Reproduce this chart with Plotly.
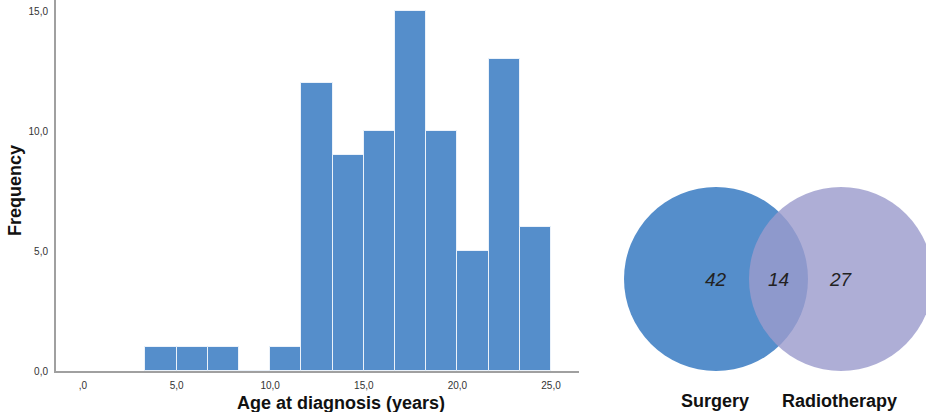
import plotly.graph_objects as go

# Histogram of age at diagnosis (bins of 5/3 years)
bin_start = 10 / 3
bin_width = 5 / 3
counts = [1, 1, 1, 0, 1, 12, 9, 10, 15, 10, 5, 13, 6]

x_tick_vals = [0, 5, 10, 15, 20, 25]
x_tick_text = [",0", "5,0", "10,0", "15,0", "20,0", "25,0"]
y_tick_vals = [0, 5, 10, 15]
y_tick_text = ["0,0", "5,0", "10,0", "15,0"]

# Treatment overlap
venn_sets = ["Surgery", "Radiotherapy"]
venn_counts = [42, 14, 27]  # surgery only, both, radiotherapy only

W, H = 926, 412
BLUE = "#558ECB"
LAVENDER = "rgba(155,155,204,0.81)"
FONT = "Liberation Sans, Arial, sans-serif"

centers = [bin_start + bin_width * (i + 0.5) for i in range(len(counts))]

fig = go.Figure()
fig.add_trace(go.Bar(
    x=centers, y=counts, width=bin_width,
    marker=dict(color=BLUE, line=dict(color="rgba(235,242,250,1)", width=1)),
    hoverinfo="y",
))


# pixel -> paper helpers
def px_x(p):
    return p / W


def px_y(p):
    return 1 - p / H


fig.update_layout(
    width=W, height=H, autosize=False,
    margin=dict(l=0, r=0, t=0, b=0, pad=0),
    paper_bgcolor="white", plot_bgcolor="white",
    showlegend=False,
    font=dict(family=FONT, color="#333"),
    bargap=0,
    xaxis=dict(
        domain=[px_x(56), px_x(579)],
        range=[(56 - 83) / 18.72, (579 - 83) / 18.72],
        tickvals=x_tick_vals, ticktext=x_tick_text,
        showgrid=False, zeroline=False, automargin=False,
        showline=True, linecolor="#a0a0a0", linewidth=2,
        ticks="", tickfont=dict(size=10, color="#333"),
        ticklabelstandoff=4,
    ),
    yaxis=dict(
        domain=[px_y(371), 1],
        range=[0, 371 / 24],
        tickvals=y_tick_vals, ticktext=y_tick_text,
        showgrid=False, zeroline=False, automargin=False,
        showline=True, linecolor="#a0a0a0", linewidth=2,
        ticks="", tickfont=dict(size=10, color="#333"),
        ticklabelstandoff=4,
    ),
)


def label(x, y, text, size, color="#111", angle=0):
    fig.add_annotation(x=px_x(x), y=px_y(y), xref="paper", yref="paper",
                       text=text, showarrow=False, textangle=angle,
                       xanchor="center", yanchor="middle",
                       font=dict(size=size, color=color))


# axis titles
label(341, 403, "<b>Age at diagnosis (years)</b>", 18)
label(15, 191, "<b>Frequency</b>", 18, angle=-90)

# Venn diagram, positioned in paper coordinates
r = 92
cy = 279
cx_left, cx_right = 716, 841
for cx, fill in [(cx_left, BLUE), (cx_right, LAVENDER)]:
    fig.add_shape(type="circle", xref="paper", yref="paper",
                  x0=px_x(cx - r), x1=px_x(cx + r),
                  y0=px_y(cy + r), y1=px_y(cy - r),
                  fillcolor=fill, line=dict(width=0), layer="above")

mid = (cx_left + r + cx_right - r) / 2
for xpos, val in zip([cx_left, mid, cx_right], venn_counts):
    label(xpos, cy, f"<i>{val}</i>", 19, color="#222")
for xpos, name in zip([715, 839], venn_sets):
    label(xpos, 401, f"<b>{name}</b>", 18)

fig.write_html("out.html")
